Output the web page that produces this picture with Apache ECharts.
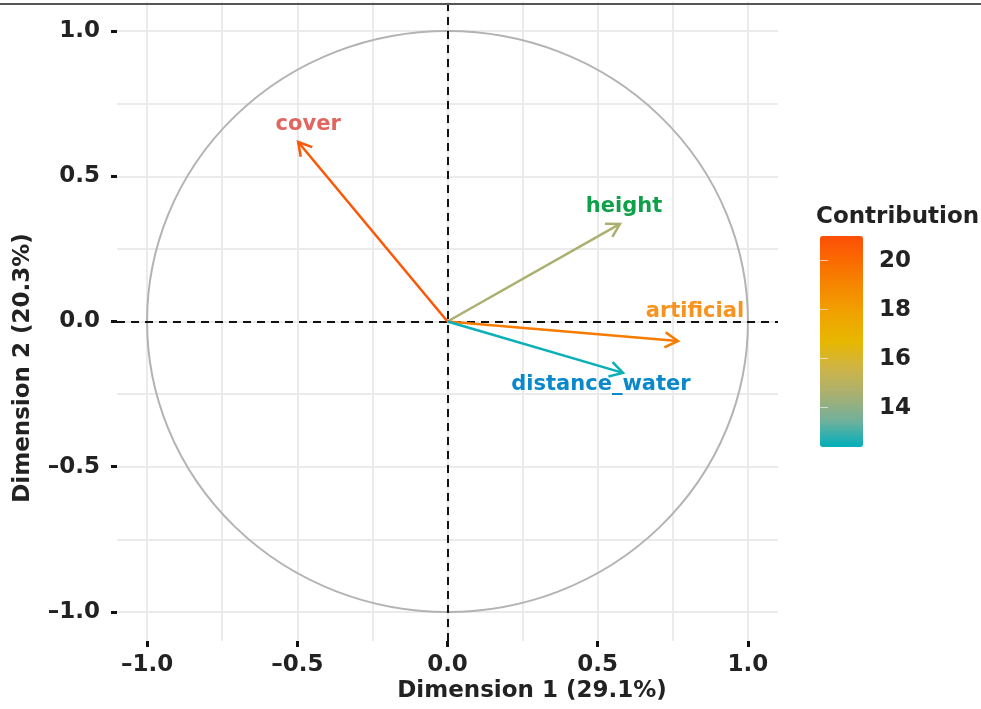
<!DOCTYPE html>
<html>
<head>
<meta charset="utf-8">
<script src="https://cdn.jsdelivr.net/npm/echarts@6/dist/echarts.min.js"></script>
<style>
  html,body{margin:0;padding:0;background:#fff;}
  #main{width:981px;height:709px;}
</style>
</head>
<body>
<div id="main"></div>
<script>
// variables of the correlation circle
var varNames=['cover','height','artificial','distance_water'];
// coordinates on Dim1 / Dim2
var dim1=[-0.497,0.574,0.767,0.584];
var dim2=[0.618,0.336,-0.067,-0.177];
// contribution (colour scale)
var contrib=[20.7,14.6,19.4,12.5];
// axis ticks
var axisTicks=[-1,-0.5,0,0.5,1];
var gridTicks=[-1,-0.75,-0.5,-0.25,0,0.25,0.5,0.75,1];
var legendTicks=[14,16,18,20];
var contribMin=12.4, contribMax=21.0;

// label colours and offsets (style only)
var labelColors=['#e0665f','#0fa04a','#f7931e','#0a88cc'];
var labelOffsets=[[10,-17],[4,-17],[17,-29],[-22,12]];
// gradient teal -> yellow -> orange-red (Lab-like steps)
var gradColors=['#00afbb','#72b09b','#a9b072','#cfb446','#e7b800','#f0a400','#f58a00','#fa6d00','#fc4e07'];

var font='DejaVu Sans';
var fmt=function(v){
  return (v<0?'\u2013':'')+Math.abs(v).toFixed(1);
};

var arrowData=varNames.map(function(n,i){
  return {name:n,value:[dim1[i],dim2[i],contrib[i]]};
});

var chart=echarts.init(document.getElementById('main'));

var axisCommon={
  type:'value',min:-1.1,max:1.1,
  axisLine:{show:false,onZero:false}
};
var tickFont={fontFamily:font,fontWeight:'bold',fontSize:23,color:'#222'};

chart.setOption({
  animation:false,
  backgroundColor:'#fff',
  grid:[
    {left:117,right:203,top:2,bottom:68},
    {left:820,top:236,width:43,height:211}
  ],
  xAxis:[
    // grid lines
    Object.assign({},axisCommon,{gridIndex:0,
      axisTick:{show:false,customValues:gridTicks},
      axisLabel:{show:false,customValues:gridTicks},
      splitLine:{show:true,lineStyle:{color:'#ebebeb',width:2}}
    }),
    // ticks + labels
    Object.assign({},axisCommon,{gridIndex:0,position:'bottom',
      axisTick:{show:true,length:6,customValues:axisTicks,lineStyle:{color:'#111',width:3}},
      axisLabel:Object.assign({customValues:axisTicks,formatter:fmt,margin:13},tickFont),
      splitLine:{show:false}
    }),
    {type:'value',gridIndex:1,show:false,min:0,max:1}
  ],
  yAxis:[
    Object.assign({},axisCommon,{gridIndex:0,
      axisTick:{show:false,customValues:gridTicks},
      axisLabel:{show:false,customValues:gridTicks},
      splitLine:{show:true,lineStyle:{color:'#ebebeb',width:2}}
    }),
    Object.assign({},axisCommon,{gridIndex:0,position:'left',
      axisTick:{show:true,length:6,customValues:axisTicks,lineStyle:{color:'#111',width:3}},
      axisLabel:Object.assign({customValues:axisTicks,formatter:fmt,margin:17},tickFont),
      splitLine:{show:false}
    }),
    // colour bar labels
    {type:'value',gridIndex:1,position:'right',min:contribMin,max:contribMax,z:10,
      axisLine:{show:false},splitLine:{show:false},
      axisTick:{show:true,inside:true,length:8,customValues:legendTicks,lineStyle:{color:'rgba(255,255,255,0.6)',width:1}},
      axisLabel:Object.assign({customValues:legendTicks,margin:16},tickFont)
    },
    {type:'value',gridIndex:1,position:'left',min:contribMin,max:contribMax,z:10,
      axisLine:{show:false},splitLine:{show:false},
      axisTick:{show:true,inside:true,length:8,customValues:legendTicks,lineStyle:{color:'rgba(255,255,255,0.6)',width:1}},
      axisLabel:{show:false}
    }
  ],
  visualMap:{
    type:'continuous',
    min:contribMin,max:contribMax,
    dimension:2,seriesIndex:1,
    calculable:false,text:null,showLabel:false,
    left:820,top:236,itemWidth:43,itemHeight:211,padding:0,
    inRange:{color:gradColors}
  },
  graphic:[
    {type:'line',shape:{x1:0,y1:4,x2:981,y2:4},style:{stroke:'#555',lineWidth:2},z:100},
    {type:'text',x:532,y:691,style:{text:'Dimension 1 (29.1%)',fontFamily:font,fontWeight:'bold',fontSize:23,fill:'#222',align:'center',verticalAlign:'middle'}},
    {type:'text',x:23,y:368,rotation:Math.PI/2,style:{text:'Dimension 2 (20.3%)',fontFamily:font,fontWeight:'bold',fontSize:23,fill:'#222',align:'center',verticalAlign:'middle'}},
    {type:'text',x:816,y:217,style:{text:'Contribution',fontFamily:font,fontWeight:'bold',fontSize:23,fill:'#222',align:'left',verticalAlign:'middle'}}
  ],
  series:[
    // unit circle + reference lines
    {
      type:'custom',xAxisIndex:0,yAxisIndex:0,silent:true,z:2,
      data:[[0,0]],
      renderItem:function(params,api){
        var c=api.coord([0,0]);
        var s=api.size([1,1]);
        var rx=s[0],ry=s[1];
        var d='M'+(c[0]-rx)+' '+c[1]+' A'+rx+' '+ry+' 0 1 0 '+(c[0]+rx)+' '+c[1]+
              ' A'+rx+' '+ry+' 0 1 0 '+(c[0]-rx)+' '+c[1]+' Z';
        return {type:'path',shape:{pathData:d},style:{fill:null,stroke:'#b3b3b3',lineWidth:2}};
      },
      markLine:{
        silent:true,symbol:'none',
        label:{show:false},
        lineStyle:{color:'#111',type:[8,6],width:2},
        data:[{xAxis:0},{yAxis:0}]
      }
    },
    // arrows
    {
      type:'custom',xAxisIndex:0,yAxisIndex:0,z:5,
      data:arrowData,
      renderItem:function(params,api){
        var o=api.coord([0,0]);
        var p=api.coord([api.value(0),api.value(1)]);
        var col=api.visual('color');
        var ang=Math.atan2(p[1]-o[1],p[0]-o[0]);
        var hl=15,ha=Math.PI/6;
        var h1=[p[0]-hl*Math.cos(ang-ha),p[1]-hl*Math.sin(ang-ha)];
        var h2=[p[0]-hl*Math.cos(ang+ha),p[1]-hl*Math.sin(ang+ha)];
        var i=params.dataIndex;
        var off=labelOffsets[i];
        return {type:'group',children:[
          {type:'line',shape:{x1:o[0],y1:o[1],x2:p[0],y2:p[1]},style:{stroke:col,lineWidth:2.5}},
          {type:'polyline',shape:{points:[h1,p,h2]},style:{stroke:col,lineWidth:2.5,fill:null}},
          {type:'text',x:p[0]+off[0],y:p[1]+off[1],style:{
            text:varNames[i],fontFamily:font,fontWeight:'bold',fontSize:21,
            fill:labelColors[i],align:'center',verticalAlign:'middle'}}
        ]};
      }
    }
  ]
});
</script>
</body>
</html>
